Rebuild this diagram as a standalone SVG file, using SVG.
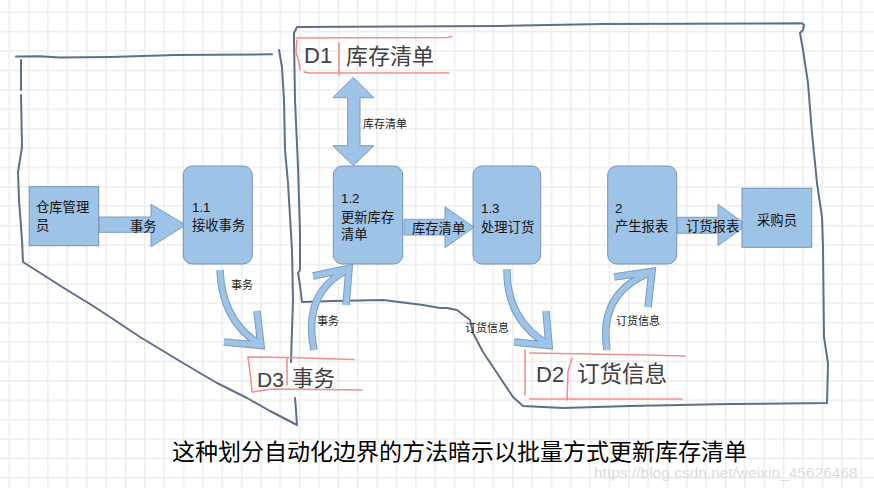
<svg xmlns="http://www.w3.org/2000/svg" width="874" height="488" viewBox="0 0 874 488">
<style>
text{font-family:"Liberation Sans","Noto Sans CJK SC",sans-serif}
.box{fill:#9dc3e6;stroke:#7892b4;stroke-width:1}
.blk{fill:#9dc3e6;stroke:#7c9cc4;stroke-width:1}
.t{font-size:13.3px;fill:#111}
.s{font-size:11px;fill:#222}
.st{font-size:22px;fill:#404040}
.hand{fill:none;stroke:#5d7089;stroke-width:2;stroke-linejoin:round;stroke-linecap:round}
.red{fill:none;stroke:#f29090;stroke-width:1.6;stroke-linecap:round}
.co{fill:none;stroke:#7c9cc4;stroke-width:7.5;stroke-linejoin:miter;stroke-miterlimit:10}
.ci{fill:none;stroke:#9dc3e6;stroke-width:5.5;stroke-linejoin:miter;stroke-miterlimit:10}
</style>
<defs>
<pattern id="grid" patternUnits="userSpaceOnUse" x="8.5" y="11.5" width="19.36" height="19.4">
<path d="M0.75 0V19.4M0 0.75H19.36" stroke="#ececec" stroke-width="1.5" fill="none"/>
</pattern>
</defs>
<rect width="874" height="488" fill="#ffffff"/>
<rect width="874" height="488" fill="url(#grid)"/>

<g id="boundaries">
<path class="hand" d="M16,56.5 L40,56.3 L60,57.5 L110,57 L175,55 L272,54.3"/>
<path class="hand" d="M21,60 L21,90"/>
<path class="hand" d="M21,95 L22,147 L18,172 L19,200 L22,240 L23,262 L45,276 L67,290 L90,304 L110,317 L140,337 L183,363 L217,383 L247,398 L270,411 L297,425 L296,410 L295,398"/>
<path class="hand" d="M279,50 L282,67 L284,100 L285,150 L288,183 L292,250 L293,300 L292,330 L291,362"/>
<path class="hand" d="M302,302 L333,301 L383,300 L423,305 L440,308 L447,308 L457,310 L470,320 L473,333 L483,352 L497,373 L513,397 L523,406 L563,408 L630,406 L730,404 L827,403 L828,363 L824,337 L823,247 L822,217 L817,183 L812,133 L808,83 L803,50 L800,33 L803,30 L804,25 L802,23.3 L603,24 L500,26 L297,27 L294,33 L294,40 L295,100 L298,167 L300,233 L300,270 L298,273 L300,285 Z"/>
</g>

<g id="connectors">
<polygon class="blk" points="99,217 151,217 151,204.3 185.7,225 151,246.7 151,232.3 99,232.3"/>
<polygon class="blk" points="404,219.3 445,219.3 445,206.7 474,227.3 445,247.7 445,235 404,235"/>
<polygon class="blk" points="677,217.3 718,217.3 718,204.3 746.7,225 718,245.7 718,233.3 677,233.3"/>
<polygon class="blk" points="353.3,77.3 374,97.7 360,97.7 360,145.7 374,145.7 353.3,165.7 332.7,145.7 347.7,145.7 347.7,97.7 332.7,97.7"/>
<path class="co" d="M220,270 Q222,322 261,345 M224,342 L261,345.5 L257,311"/>
<path class="co" d="M314,350 Q302,292 349,269 M313,276 L349,268.5 L346,305"/>
<path class="co" d="M507,269 Q506,320 549,345 M514,342 L549,345.5 L546,311"/>
<path class="co" d="M607,350 Q598,292 652,272 M614,277 L652,271.5 L648,307"/>
<path class="ci" d="M220,270 Q222,322 261,345 M224,342 L261,345.5 L257,311"/>
<path class="ci" d="M314,350 Q302,292 349,269 M313,276 L349,268.5 L346,305"/>
<path class="ci" d="M507,269 Q506,320 549,345 M514,342 L549,345.5 L546,311"/>
<path class="ci" d="M607,350 Q598,292 652,272 M614,277 L652,271.5 L648,307"/>
<text class="t" x="130" y="231">事务</text>
<text class="t" x="412" y="233">库存清单</text>
<text class="t" x="686" y="231">订货报表</text>
<text class="s" x="363" y="128">库存清单</text>
<text class="s" x="231" y="289">事务</text>
<text class="s" x="317" y="325">事务</text>
<text class="s" x="465" y="332">订货信息</text>
<text class="s" x="616" y="325">订货信息</text>
</g>

<g id="n-warehouse">
<rect class="box" x="29.3" y="186.7" width="69.4" height="59"/>
<text class="t" x="36" y="212">仓库管理</text>
<text class="t" x="36" y="230">员</text>
</g>
<g id="p-1-1">
<rect class="box" x="183.3" y="166" width="69" height="98" rx="9"/>
<text class="t" x="192" y="212">1.1</text>
<text class="t" x="192" y="230">接收事务</text>
</g>
<g id="p-1-2">
<rect class="box" x="333.3" y="166" width="69.4" height="98" rx="9"/>
<text class="t" x="341" y="203">1.2</text>
<text class="t" x="341" y="222">更新库存</text>
<text class="t" x="341" y="239">清单</text>
</g>
<g id="p-1-3">
<rect class="box" x="473" y="166" width="67.7" height="98" rx="9"/>
<text class="t" x="481" y="213">1.3</text>
<text class="t" x="481" y="232">处理订货</text>
</g>
<g id="p-2">
<rect class="box" x="607.7" y="166" width="69" height="98" rx="9"/>
<text class="t" x="615" y="213">2</text>
<text class="t" x="615" y="231">产生报表</text>
</g>
<g id="n-buyer">
<rect class="box" x="742" y="188.3" width="69.7" height="59"/>
<text class="t" x="777" y="225" text-anchor="middle">采购员</text>
</g>

<g id="d1">
<path class="red" d="M296,38 L447,37.5 L452,36.5"/>
<path class="red" d="M297,40 L296,52 L299,62 L300,70"/>
<path class="red" d="M304,72 L310,73 L449,73"/>
<path class="red" d="M339,43 L339,75"/>
<text class="st" x="304" y="63">D1</text>
<text class="st" x="346" y="64">库存清单</text>
</g>
<g id="d3">
<path class="red" d="M248,357 L287,357.5 L354,359.5"/>
<path class="red" d="M248,357 L250,372 L252,391"/>
<path class="red" d="M252,392 L273,389 L362,390"/>
<path class="red" d="M287,358 L287,385"/>
<text class="st" x="257" y="387" style="font-size:21px">D3</text>
<text class="st" x="292" y="386" style="font-size:21.5px">事务</text>
</g>
<g id="d2">
<path class="red" d="M530,353 L647,355 L685,356"/>
<path class="red" d="M525,350 L525,395"/>
<path class="red" d="M572,358 L568,372 L567,400"/>
<path class="red" d="M530,399 L682,399"/>
<text class="st" x="536" y="382">D2</text>
<text class="st" x="577" y="382" style="font-size:22.5px">订货信息</text>
</g>

<g id="caption">
<text x="172" y="460" style="font-size:23px;fill:#000">这种划分自动化边界的方法暗示以批量方式更新库存清单</text>
<text x="594" y="478" style="font-size:15.5px;fill:#dcdcdc">https://blog.csdn.net/weixin_45626468</text>
</g>
</svg>
